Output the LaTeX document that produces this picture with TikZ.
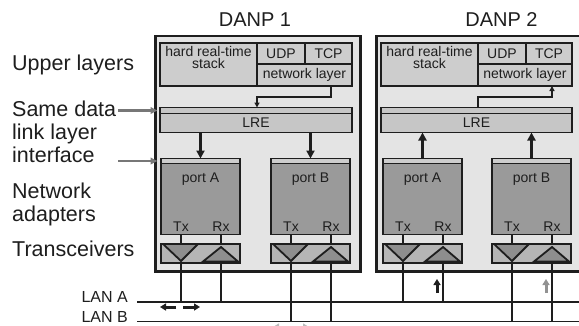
\documentclass[tikz,border=0pt]{standalone}
\usepackage{fontspec}
\setmainfont{Liberation Sans}
\usepackage{tikz}
\usetikzlibrary{arrows.meta,positioning,calc}
\definecolor{ink}{HTML}{1E1E1E}
\definecolor{boxbg}{HTML}{E4E4E4}
\definecolor{cellbg}{HTML}{CDCDCD}
\definecolor{lrebg}{HTML}{C6C6C6}
\definecolor{portbg}{HTML}{9A9A9A}
\definecolor{xcvbg}{HTML}{B5B5B5}
\definecolor{tribg}{HTML}{8E8E8E}
\definecolor{hint}{HTML}{777777}
\definecolor{faint}{HTML}{BBBBBB}

\begin{document}
\begin{tikzpicture}[x=1pt,y=-1pt,
  side/.style={font=\fontsize{21.5}{22.6}\selectfont,text=ink,inner sep=0pt,align=left},
  head/.style={font=\fontsize{20}{24}\selectfont,text=ink,inner sep=0pt},
  lan/.style={font=\fontsize{16}{19}\selectfont,text=ink,inner sep=0pt},
  lab/.style={font=\fontsize{14}{12}\selectfont,text=ink,inner sep=0pt},
  danp/.style={draw=ink,line width=2.4pt,fill=boxbg,inner sep=0pt,outer sep=0pt,anchor=north west},
  cell/.style={draw=ink,line width=1.8pt,fill=cellbg,inner sep=0pt,outer sep=0pt,anchor=north west,lab},
  band/.style={cell,minimum height=5},
  port/.style={cell,fill=portbg},
  xcv/.style={cell,fill=xcvbg},
  tri/.style={draw=ink,line width=1.8pt,fill=tribg,line join=miter},
  wire/.style={draw=ink,line width=1.8pt},
  flow/.style={draw=ink,line width=2.6pt,-{Triangle[length=8pt,width=8pt]}},
  feed/.style={draw=ink,line width=1.6pt,-{Triangle[length=5pt,width=5pt]}},
  point/.style={draw=hint,line width=2.6pt,-{Triangle[length=7pt,width=6.5pt]}},
  move/.style={draw=ink,line width=3pt,-{Triangle[length=6pt,width=7pt]}}]
\fill[white] (0,0) rectangle (579,325);
\useasboundingbox (0,0) rectangle (579,325);
\clip (0,0) rectangle (579,325);

% side labels (base = last line)
\node[side,anchor=base west] (upper) at (12,70) {Upper layers};
\node[side,anchor=base west] (same) at (12,162) {Same data\\link layer\\interface};
\node[side,anchor=base west] (adapt) at (12,221) {Network\\adapters};
\node[side,anchor=base west] (trans) at (12,256.7) {Transceivers};

% the two nodes
\node[head,anchor=base] (t1) at (255,26) {DANP 1};
\node[head,anchor=base] (t2) at (501.5,26) {DANP 2};
\node[danp,minimum width=205,minimum height=235.5] (d1) at (155.5,36) {};
\node[danp,minimum width=205,minimum height=235.5] (d2) at (376.5,36) {};

% upper layers
\node[cell,minimum width=97,minimum height=43,
  label={[lab,anchor=north,align=center,yshift=-3pt]north:{hard real-time\\stack}}] (hrt1) at (160,43) {};
\node[cell,minimum width=48,minimum height=21] (udp1) at (hrt1.north east) {UDP};
\node[cell,minimum width=47,minimum height=21] (tcp1) at (udp1.north east) {TCP};
\node[cell,minimum width=95,minimum height=22] (net1) at (udp1.south west) {network layer};
\node[cell,minimum width=97,minimum height=43,
  label={[lab,anchor=north,align=center,yshift=-3pt]north:{hard real-time\\stack}}] (hrt2) at (381,43) {};
\node[cell,minimum width=48,minimum height=21] (udp2) at (hrt2.north east) {UDP};
\node[cell,minimum width=46,minimum height=21] (tcp2) at (udp2.north east) {TCP};
\node[cell,minimum width=94,minimum height=22] (net2) at (udp2.south west) {network layer};

% LRE
\node[band,fill=lrebg,minimum width=192,minimum height=6] (lreb1) at (160,107.5) {};
\node[cell,fill=lrebg,minimum width=192,minimum height=19] (lre1) at (lreb1.south west) {LRE};
\node[band,fill=lrebg,minimum width=191,minimum height=6] (lreb2) at (381,107.5) {};
\node[cell,fill=lrebg,minimum width=191,minimum height=19] (lre2) at (lreb2.south west) {LRE};

% LANs
\coordinate (lanA) at (137,302);
\coordinate (lanAend) at (579,302);
\coordinate (lanB) at (137,321.5);
\coordinate (lanBend) at (579,321.5);
\node[lan,anchor=base east] (lanAlab) at (128,302) {LAN A};
\node[lan,anchor=base east] (lanBlab) at (128,322.5) {LAN B};
\draw[wire] (lanA) -- (lanAend);
\draw[wire] (lanB) -- (lanBend);

% ports, transceivers and drops
\foreach \n/\x/\l/\lan in {A1/161/A/lanA, B1/271/B/lanB, A2/383/A/lanA, B2/492/B/lanB} {
  \node[band,minimum width=79] (pb\n) at (\x,158.5) {};
  \node[port,minimum width=79,minimum height=71,
    label={[lab,anchor=north,yshift=-9pt]north:port \l}] (p\n) at (pb\n.south west) {};
  \node[lab,anchor=base] (tx\n) at (\x+20,231) {Tx};
  \node[lab,anchor=base] (rx\n) at (\x+60,231) {Rx};
  \draw[wire] (tx\n |- p\n.south) -- (tx\n |- \lan);
  \draw[wire] (rx\n |- p\n.south) -- (rx\n |- \lan);
  \node[xcv,minimum width=79,minimum height=19] (x\n) at (\x,244) {};
  \draw[tri] ($(x\n.north west)+(2,0)$) -- ++(35,0) -- ++(-17,17) -- cycle;
  \draw[tri] ($(x\n.south west)+(42,-1.5)$) -- ++(35,0) -- ++(-17,-14.5) -- cycle;
}

% data paths inside DANP 1
\draw[feed] ([xshift=-21pt]net1.south east) |- ([yshift=-11pt]net1.south west) -- (lreb1.north -| net1.south west);
\draw[flow] (lre1.south -| pbA1.north) -- (pbA1.north);
\draw[flow] (lre1.south -| pbB1.north) -- (pbB1.north);

% data paths inside DANP 2
\draw[feed] (lreb2.north -| net2.south west) |- ([xshift=-20pt,yshift=-11pt]net2.south east) -- ([xshift=-20pt]net2.south east);
\draw[flow] (pbA2.north) -- (lre2.south -| pbA2.north);
\draw[flow] (pbB2.north) -- (lre2.south -| pbB2.north);

% interface pointers
\draw[point] ([xshift=2pt]same.east |- lreb1.center) -- ([xshift=2pt]d1.west |- lreb1.center);
\draw[point] ([xshift=2pt]same.east |- pbA1.center) -- ([xshift=2pt]d1.west |- pbA1.center);

% frames on the LANs
\draw[move] (176,307) -- (160,307);
\draw[move] (183,307) -- (200,307);
\draw[move,draw=faint] (289,327) -- (273,327);
\draw[move,draw=faint] (294,327) -- (309,327);
\draw[move] (437,293) -- (437,279);
\draw[move,draw=hint!80] (546,293) -- (546,279);
\end{tikzpicture}
\end{document}
